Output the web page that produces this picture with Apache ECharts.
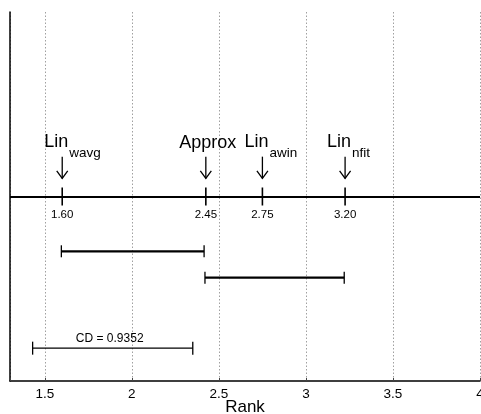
<!DOCTYPE html>
<html><head><meta charset="utf-8">
<script src="https://cdn.jsdelivr.net/npm/echarts@6/dist/echarts.min.js"></script>
<style>html,body{margin:0;padding:0;background:#fff}#c{width:481px;height:414px}</style>
</head><body><div id="c"></div>
<script>
// ---- data ----
const methodNames = ['Lin', 'Approx', 'Lin', 'Lin'];
const methodSubs = ['wavg', '', 'awin', 'nfit'];
const methodRanks = [1.60, 2.425, 2.75, 3.225];
const rankLabels = ['1.60', '2.45', '2.75', '3.20'];
const cliqueStarts = [1.595, 2.42];
const cliqueEnds = [2.415, 3.22];
const cdStart = 1.43;
const cdEnd = 2.35;
const cdLabel = 'CD = 0.9352';
const xTickLabels = ['1.5', '2', '2.5', '3', '3.5', '4'];

// ---- layout (vertical rows in axis units, 0 = top, 1 = bottom) ----
const Y_LINE = 0.5, Y_ARROW_TOP = 0.392, Y_ARROW_BOT = 0.451;
const Y_CLIQUES = [0.6485, 0.72];
const Y_CD = 0.911;
const FONT = '"Liberation Sans", Arial, Helvetica, sans-serif';

const chart = echarts.init(document.getElementById('c'), null, {renderer: 'canvas'});

function methodItem(params, api) {
  const i = params.dataIndex;
  const r = api.value(0);
  const pLine = api.coord([r, Y_LINE]);
  const pTop = api.coord([r, Y_ARROW_TOP]);
  const pBot = api.coord([r, Y_ARROW_BOT]);
  const x = pLine[0];
  const children = [
    {type: 'line', shape: {x1: x, y1: pLine[1] - 9, x2: x, y2: pLine[1] + 9}, style: {stroke: '#000', lineWidth: 1.6}},
    {type: 'text', style: {text: rankLabels[i], x: x, y: pLine[1] + 18, font: '11.5px ' + FONT, fill: '#000', align: 'center', verticalAlign: 'middle'}},
    {type: 'line', shape: {x1: x, y1: pTop[1], x2: x, y2: pBot[1]}, style: {stroke: '#000', lineWidth: 1.3}},
    {type: 'polyline', shape: {points: [[x - 5.5, pBot[1] - 7.5], [x, pBot[1]], [x + 5.5, pBot[1] - 7.5]]}, style: {stroke: '#000', fill: null, lineWidth: 1.3}}
  ];
  if (methodSubs[i]) {
    children.push({type: 'text', style: {text: methodNames[i], x: x + 6, y: pTop[1] - 15, font: '18px ' + FONT, fill: '#000', align: 'right', verticalAlign: 'middle'}});
    children.push({type: 'text', style: {text: methodSubs[i], x: x + 7, y: pTop[1] - 3, font: '13.5px ' + FONT, fill: '#000', align: 'left', verticalAlign: 'middle'}});
  } else {
    children.push({type: 'text', style: {text: methodNames[i], x: x + 2, y: pTop[1] - 14, font: '18px ' + FONT, fill: '#000', align: 'center', verticalAlign: 'middle'}});
  }
  return {type: 'group', children: children};
}

function barItem(params, api, lw, capH) {
  const a = api.coord([api.value(0), api.value(2)]);
  const b = api.coord([api.value(1), api.value(2)]);
  return {type: 'group', children: [
    {type: 'line', shape: {x1: a[0], y1: a[1], x2: b[0], y2: b[1]}, style: {stroke: '#000', lineWidth: lw}},
    {type: 'line', shape: {x1: a[0], y1: a[1] - capH, x2: a[0], y2: a[1] + capH}, style: {stroke: '#000', lineWidth: 1.3}},
    {type: 'line', shape: {x1: b[0], y1: b[1] - capH, x2: b[0], y2: b[1] + capH}, style: {stroke: '#000', lineWidth: 1.3}}
  ]};
}

function cdItem(params, api) {
  const g = barItem(params, api, 1.4, 6.5);
  const a = api.coord([api.value(0), api.value(2)]);
  const b = api.coord([api.value(1), api.value(2)]);
  g.children.push({type: 'text', style: {text: cdLabel, x: (a[0] + b[0]) / 2 - 3, y: a[1] - 9, font: '12px ' + FONT, fill: '#000', align: 'center', verticalAlign: 'middle'}});
  return g;
}

const option = {
  animation: false,
  backgroundColor: '#fff',
  grid: {left: 10, right: 1, top: 12, bottom: 33, containLabel: false, outerBoundsMode: 'none'},
  xAxis: {
    type: 'value', min: 1.3, max: 4.0, splitNumber: 5,
    name: 'Rank', nameLocation: 'middle', nameGap: 18, nameMoveOverlap: false,
    nameTextStyle: {fontSize: 17, fontFamily: FONT, color: '#000'},
    axisLine: {show: true, onZero: false, lineStyle: {color: '#000', width: 1.5}},
    axisTick: {show: true, inside: true, length: 3, lineStyle: {color: '#444'}},
    axisLabel: {
      fontSize: 13.5, fontFamily: FONT, color: '#000', margin: 6, hideOverlap: false,
      formatter: function (v) {
        const idx = Math.round((v - 1.5) / 0.5);
        if (Math.abs(v - (1.5 + idx * 0.5)) < 1e-6 && idx >= 0 && idx < xTickLabels.length) return xTickLabels[idx];
        return '';
      }
    },
    splitLine: {show: true, lineStyle: {color: '#a0a0a0', width: 1, type: [1.5, 2]}}
  },
  yAxis: {
    type: 'value', min: 0, max: 1, inverse: true,
    axisLine: {show: true, lineStyle: {color: '#000', width: 1.5}},
    axisTick: {show: false}, axisLabel: {show: false}, splitLine: {show: false}
  },
  series: [
    {
      type: 'custom', renderItem: methodItem, clip: false,
      data: methodRanks.map((r, i) => [r, i]),
      markLine: {
        silent: true, symbol: ['none', 'none'], label: {show: false},
        lineStyle: {color: '#000', width: 2, type: 'solid'},
        data: [{yAxis: Y_LINE}]
      }
    },
    {
      type: 'custom', clip: false,
      renderItem: function (p, api) { return barItem(p, api, 2.3, 6); },
      data: cliqueStarts.map((s, i) => [s, cliqueEnds[i], Y_CLIQUES[i]])
    },
    {
      type: 'custom', clip: false, renderItem: cdItem,
      data: [[cdStart, cdEnd, Y_CD]]
    }
  ]
};
chart.setOption(option);
</script>
</body></html>
